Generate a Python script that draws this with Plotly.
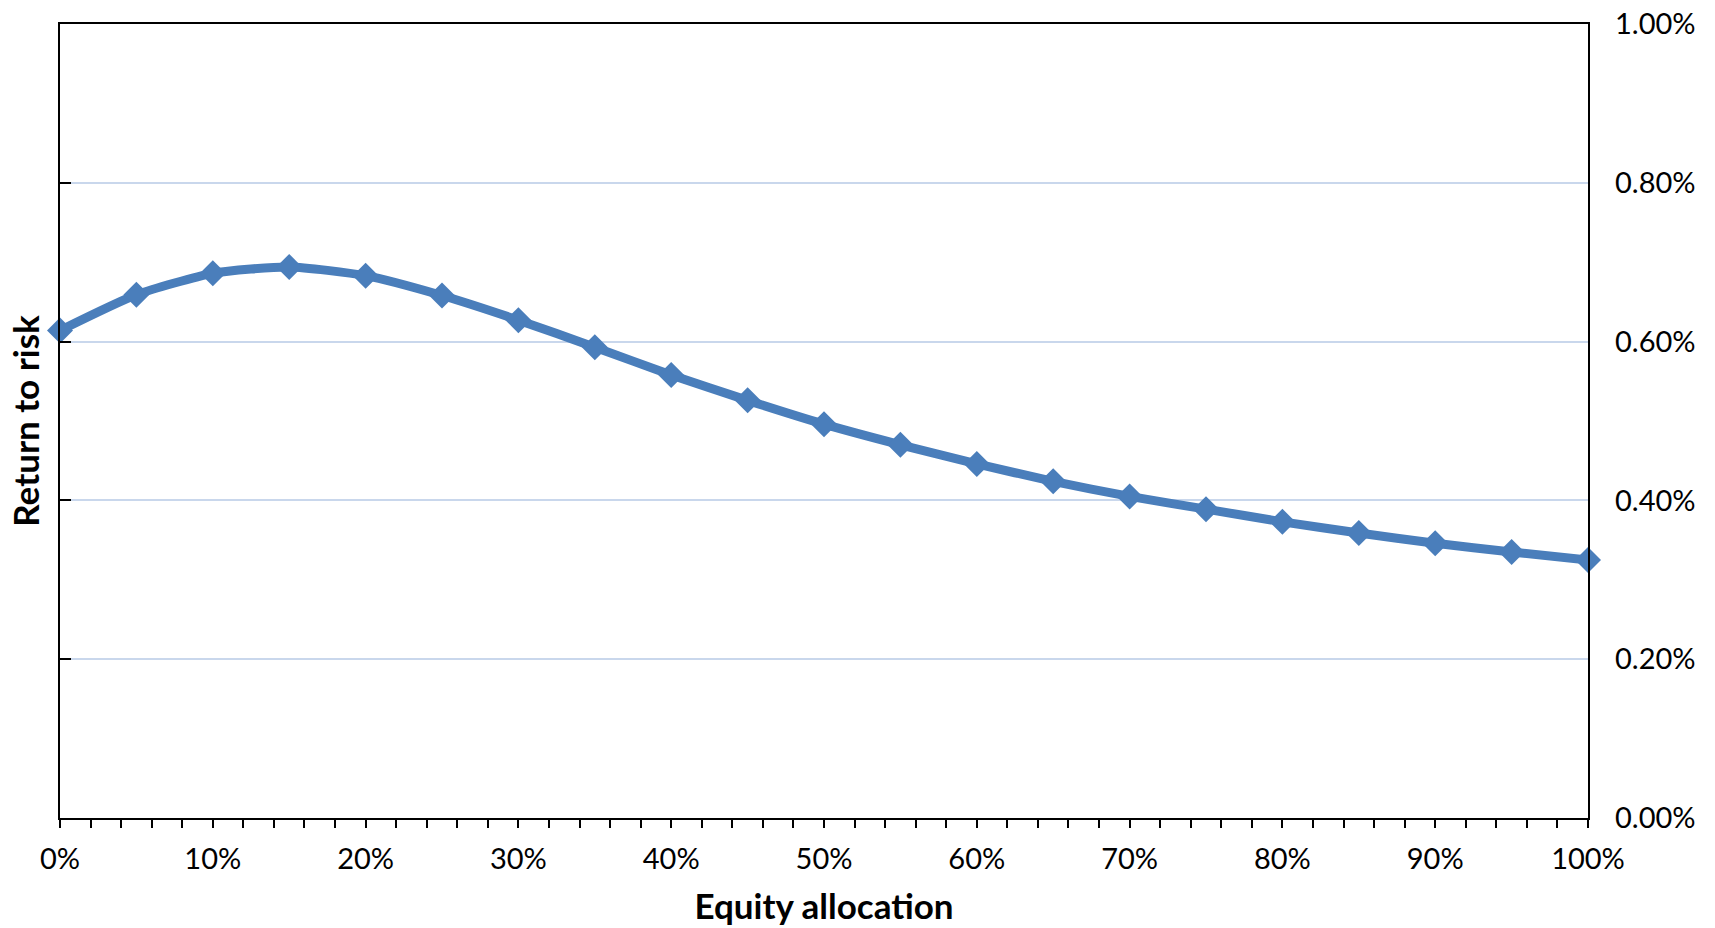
import plotly.graph_objects as go

# Equity allocation (%) and the resulting return-to-risk ratio (%)
equity_allocation = [0, 5, 10, 15, 20, 25, 30, 35, 40, 45, 50,
                     55, 60, 65, 70, 75, 80, 85, 90, 95, 100]
return_to_risk = [0.614, 0.659, 0.686, 0.694, 0.683, 0.658, 0.627, 0.593,
                  0.558, 0.526, 0.496, 0.470, 0.446, 0.424, 0.405, 0.389,
                  0.373, 0.359, 0.346, 0.335, 0.325]

y_ticks = [0.0, 0.2, 0.4, 0.6, 0.8, 1.0]
y_tick_labels = ["0.00%", "0.20%", "0.40%", "0.60%", "0.80%", "1.00%"]
x_ticks = list(range(0, 101, 10))
x_tick_labels = [f"{v}%" for v in x_ticks]

BLUE = "#4a7ebb"
GRID = "#c9d7ec"
FONT = "Lato, 'Liberation Sans', Arial, sans-serif"

fig = go.Figure()
fig.add_trace(go.Scatter(
    x=equity_allocation,
    y=return_to_risk,
    mode="lines+markers",
    line=dict(color=BLUE, width=9, shape="spline", smoothing=0.6),
    marker=dict(symbol="diamond", size=20, color=BLUE),
    cliponaxis=False,
    showlegend=False,
))
# invisible trace carrying the right-hand value axis
fig.add_trace(go.Scatter(
    x=[0, 100], y=[0, 1], yaxis="y2", mode="markers",
    marker=dict(opacity=0), hoverinfo="skip", showlegend=False,
))

fig.update_layout(
    width=1715, height=928,
    margin=dict(l=60, r=127, t=24, b=110, autoexpand=False),
    paper_bgcolor="white", plot_bgcolor="white",
    font=dict(family=FONT, color="black", size=29),
    xaxis=dict(
        range=[0, 100],
        tickvals=x_ticks, ticktext=x_tick_labels,
        ticks="outside", ticklen=8, tickwidth=2, tickcolor="black",
        minor=dict(dtick=2, ticks="outside", ticklen=8, tickwidth=2,
                   tickcolor="black", showgrid=False),
        showline=True, linecolor="black", linewidth=2, mirror=True,
        showgrid=False, zeroline=False,
        ticklabelstandoff=6,
        automargin=False,
        title=dict(text="<b>Equity allocation</b>", font=dict(size=35),
                   standoff=21),
    ),
    yaxis=dict(
        range=[0, 1.0],
        tickvals=y_ticks,
        showticklabels=False,
        ticks="inside", ticklen=11, tickwidth=2, tickcolor="black",
        showline=True, linecolor="black", linewidth=2, mirror=True,
        showgrid=True, gridcolor=GRID, gridwidth=2, zeroline=False,
        automargin=False,
        title=dict(text="<b>Return to risk</b>", font=dict(size=35),
                   standoff=8),
    ),
    yaxis2=dict(
        range=[0, 1.0],
        overlaying="y", side="right",
        tickvals=y_ticks, ticktext=y_tick_labels,
        ticks="", showline=False, showgrid=False, zeroline=False,
        automargin=False,
        ticklabelstandoff=26,
    ),
)

fig.write_html("out.html")
